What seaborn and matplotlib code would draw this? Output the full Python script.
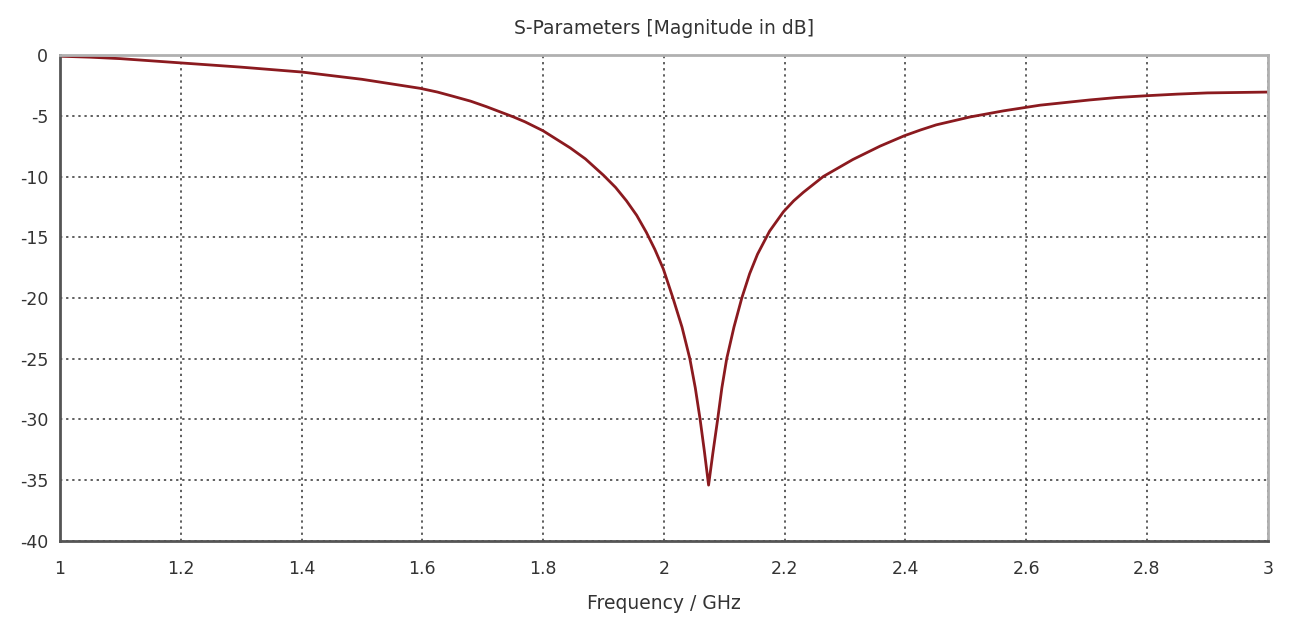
import numpy as np
import pandas as pd
import matplotlib
matplotlib.use("Agg")
import matplotlib.pyplot as plt
import seaborn as sns

# S11
freq_ghz = [1.0, 1.05, 1.1, 1.2, 1.3, 1.4, 1.5, 1.596, 1.625, 1.651, 1.68, 1.706,
            1.751, 1.77, 1.8, 1.845, 1.87, 1.9, 1.92, 1.938, 1.955, 1.971, 1.985,
            1.999, 2.015, 2.03, 2.043, 2.052, 2.06, 2.067, 2.074, 2.081, 2.089,
            2.096, 2.104, 2.116, 2.129, 2.142, 2.155, 2.175, 2.198, 2.215, 2.231,
            2.264, 2.313, 2.358, 2.398, 2.425, 2.451, 2.507, 2.562, 2.623, 2.705,
            2.75, 2.8, 2.85, 2.9, 3.0]
s11_db = [-0.1, -0.18, -0.3, -0.65, -1.0, -1.4, -2.0, -2.74, -3.05, -3.4, -3.8, -4.25,
          -5.1, -5.5, -6.24, -7.65, -8.55, -9.9, -10.9, -12.0, -13.2, -14.6, -16.0,
          -17.6, -20.0, -22.4, -25.0, -27.4, -30.0, -32.6, -35.4, -32.8, -30.0,
          -27.4, -25.0, -22.4, -20.0, -18.0, -16.4, -14.5, -12.9, -12.0, -11.3,
          -10.0, -8.6, -7.5, -6.65, -6.17, -5.75, -5.1, -4.6, -4.13, -3.7,
          -3.5, -3.35, -3.22, -3.12, -3.05]

x_ticks = [1, 1.2, 1.4, 1.6, 1.8, 2, 2.2, 2.4, 2.6, 2.8, 3]
y_ticks = [0, -5, -10, -15, -20, -25, -30, -35, -40]

df = pd.DataFrame({"Frequency / GHz": freq_ghz, "S11": s11_db})

sns.set_style("white")
plt.rcParams['font.family'] = ['DejaVu Sans']

fig = plt.figure(figsize=(12.91, 6.18), dpi=100)
ax = fig.add_axes([0.0465, 0.1246, 0.9355, 0.7864])

sns.lineplot(data=df, x="Frequency / GHz", y="S11", color="#8b1a1f", linewidth=2.0, ax=ax)

ax.set_xlim(1, 3)
ax.set_ylim(-40, 0)
ax.set_xticks(x_ticks)
ax.set_xticklabels([f"{t:g}" for t in x_ticks])
ax.set_yticks(y_ticks)
ax.set_yticklabels([f"{t:g}" for t in y_ticks])

ax.grid(True, color="#333333", linestyle=(0, (1.5, 2.5)), linewidth=1.1)
ax.tick_params(axis="both", length=3.5, color="#444444", labelsize=12.5,
               labelcolor="#333333")
ax.tick_params(axis="x", pad=10)
ax.tick_params(axis="y", pad=5)

for side in ["left", "bottom"]:
    ax.spines[side].set_color("#555555")
    ax.spines[side].set_linewidth(2)
for side in ["top", "right"]:
    ax.spines[side].set_color("#b0b0b0")
    ax.spines[side].set_linewidth(2)

ax.set_title("S-Parameters [Magnitude in dB]", fontsize=13.5, color="#333333", pad=15)
ax.set_xlabel("Frequency / GHz", fontsize=13.5, color="#333333", labelpad=12)
ax.set_ylabel("")

fig.savefig("out.png", dpi=100)
